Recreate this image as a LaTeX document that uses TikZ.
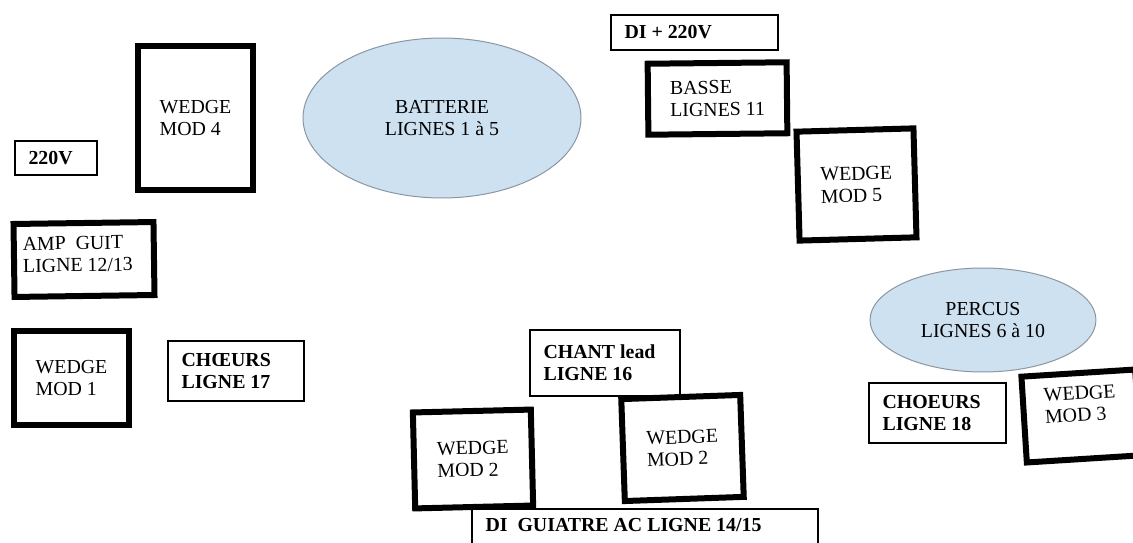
\documentclass[tikz,border=0pt]{standalone}
\usepackage{fontspec}
\setmainfont{Liberation Serif}
\usetikzlibrary{shapes.geometric}

\definecolor{zoneblue}{RGB}{205,225,241}
\definecolor{zoneline}{RGB}{140,150,162}

\begin{document}
\begin{tikzpicture}[
    x=0.02cm, y=-0.02cm,
    wedge/.style={
        rectangle, draw, line width=0.12cm,
        align=flush left, inner sep=0pt,
        font=\fontsize{11.3}{12.6}\selectfont
    },
    tag/.style={
        rectangle, draw, line width=0.03cm,
        align=flush left, inner xsep=0.27cm, inner ysep=0pt,
        font=\fontsize{11.3}{12.6}\selectfont\bfseries
    },
    zone/.style={
        ellipse, draw=zoneline, fill=zoneblue, line width=0.02cm,
        align=center, inner sep=0pt,
        font=\fontsize{11.3}{12.6}\selectfont
    }
]
\clip (0,0) rectangle (1133,543);

% drums and percussion
\node[zone, minimum width=5.56cm, minimum height=3.2cm] (batterie) at (442,118) {BATTERIE\\LIGNES 1 à 5};
\node[zone, minimum width=4.52cm, minimum height=2.08cm] (percus) at (983,320) {PERCUS\\LIGNES 6 à 10};

% power / DI
\node[tag, text width=1.1cm, minimum height=0.68cm] (power) at (56,158) {220V};
\node[tag, text width=2.8cm, minimum height=0.7cm] (dipower) at (694.5,32.5) {DI + 220V};
\node[tag, text width=6.38cm, minimum height=0.8cm] (diguit) at (645,529) {DI~ GUIATRE AC LIGNE 14/15\\[-8pt]\mbox{}};

% amps
\node[wedge, minimum height=1.46cm, text width=2.44cm, inner xsep=0.18cm, rotate=0.8] (amp) at (84,259.5) {AMP~ GUIT\\LIGNE 12/13\\[-6.2pt]\mbox{}};
\node[wedge, minimum width=2.78cm, minimum height=1.42cm, rotate=0.6] (basse) at (717.5,98.5) {BASSE\\LIGNES 11};

% voices
\node[tag, text width=2.18cm, minimum height=1.2cm] (choeursA) at (236,371) {CHŒURS\\LIGNE 17};
\node[tag, text width=2.2cm, minimum height=1.2cm] (choeursB) at (937.5,413) {CHOEURS\\LIGNE 18};
\node[tag, text width=2.46cm, minimum height=1.32cm] (chant) at (605,363) {CHANT lead\\LIGNE 16};

% monitors
\node[wedge, minimum width=2.3cm, minimum height=2.88cm] (modD) at (195.5,118) {WEDGE\\MOD 4};
\node[wedge, minimum width=2.3cm, minimum height=1.88cm] (modA) at (71.5,378) {WEDGE\\MOD 1};
\node[wedge, minimum width=2.34cm, minimum height=2.18cm, rotate=1.6] (modE) at (856.5,184.5) {WEDGE\\MOD 5};
\node[wedge, minimum width=2.28cm, minimum height=1.72cm, rotate=3.6] (modC) at (1081,416) {WEDGE\\MOD 3\\[1pt]};
\node[wedge, minimum width=2.36cm, minimum height=1.92cm, rotate=1.4] (modB) at (473,459) {WEDGE\\MOD 2};
\node[wedge, minimum width=2.38cm, minimum height=2.04cm, rotate=2] (modBB) at (682.5,448) {WEDGE\\MOD 2};

\end{tikzpicture}
\end{document}
